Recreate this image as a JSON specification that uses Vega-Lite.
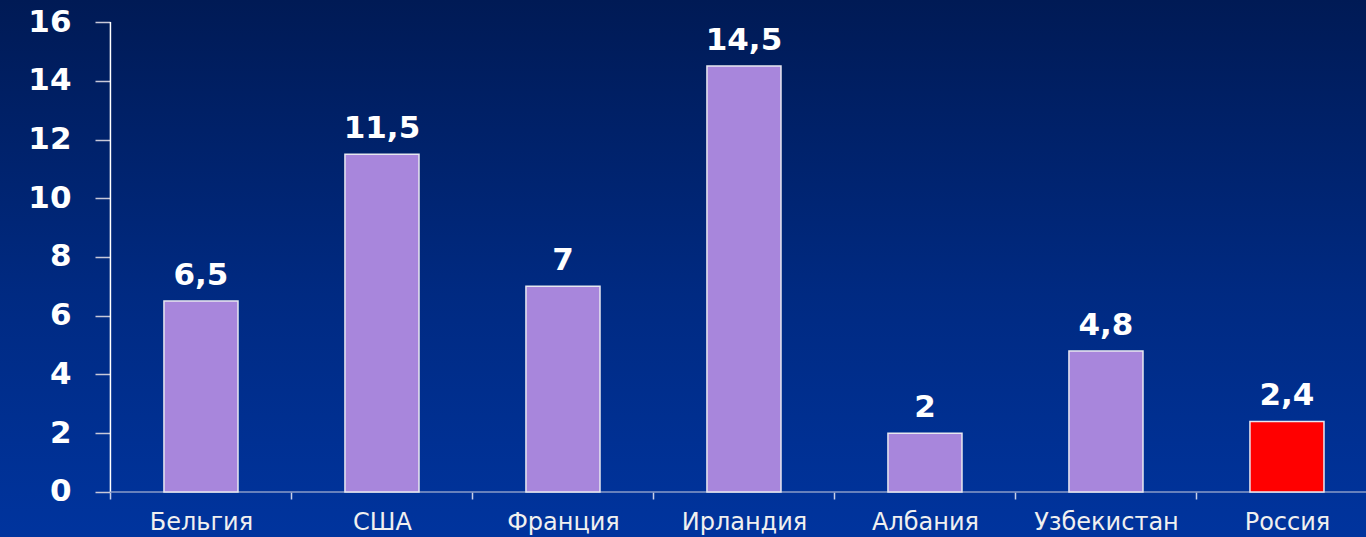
{
  "$schema": "https://vega.github.io/schema/vega-lite/v6.json",
  "autosize": {"type": "none"},
  "padding": 0,
  "width": 1366,
  "height": 537,
  "background": "#00277a",
  "config": {
    "view": {
      "stroke": null,
      "fill": {"gradient": "linear", "x1": 0, "y1": 0, "x2": 0, "y2": 1,
        "stops": [{"offset": 0, "color": "#001a55"}, {"offset": 0.55, "color": "#002a82"}, {"offset": 1, "color": "#00349e"}]}
    }
  },
  "data": {
    "values": [
      {"country": "Бельгия", "value": 6.5, "label": "6,5"},
      {"country": "США", "value": 11.5, "label": "11,5"},
      {"country": "Франция", "value": 7, "label": "7"},
      {"country": "Ирландия", "value": 14.5, "label": "14,5"},
      {"country": "Албания", "value": 2, "label": "2"},
      {"country": "Узбекистан", "value": 4.8, "label": "4,8"},
      {"country": "Россия", "value": 2.4, "label": "2,4"}
    ]
  },
  "encoding": {
    "x": {
      "field": "country", "type": "nominal", "sort": null,
      "scale": {
        "domain": ["Бельгия", "США", "Франция", "Ирландия", "Албания", "Узбекистан", "Россия"],
        "paddingInner": 0.591, "paddingOuter": 0.569, "align": 0.796
      },
      "axis": {
        "title": null, "labelAngle": 0, "offset": -45, "domain": false,
        "tickOffset": -90.5, "labelOffset": 90.5,
        "tickColor": "#c8d0e8", "tickSize": 7, "tickWidth": 1.5,
        "labelColor": "#f0f0f0", "labelFont": "DejaVu Sans", "labelFontSize": 24,
        "labelPadding": 11
      }
    },
    "y": {
      "field": "value", "type": "quantitative",
      "scale": {"domain": [-1.532, 16.749], "nice": false, "zero": false},
      "axis": {
        "title": null, "values": [0, 2, 4, 6, 8, 10, 12, 14, 16], "grid": false,
        "offset": -110, "domain": false,
        "tickColor": "#c8c8d8", "tickSize": 15, "tickWidth": 1.5,
        "labelColor": "#ffffff", "labelFont": "DejaVu Sans", "labelFontWeight": "bold",
        "labelFontSize": 31, "labelPadding": 24
      }
    }
  },
  "layer": [
    {
      "data": {"values": [{"country": "Бельгия", "lo": 0, "hi": 16}]},
      "mark": {"type": "rule", "color": "#ffffff", "strokeWidth": 1.5},
      "encoding": {
        "x": {"field": "country", "type": "nominal", "bandPosition": -0.723},
        "y": {"field": "lo", "type": "quantitative"},
        "y2": {"field": "hi"}
      }
    },
    {
      "data": {"values": [{"from": "Бельгия", "to": "Россия", "base": 0}]},
      "mark": {"type": "rule", "color": "#8a9cc8", "strokeWidth": 1.5},
      "encoding": {
        "x": {"field": "from", "type": "nominal", "bandPosition": -0.723},
        "x2": {"field": "to", "bandPosition": 1.6},
        "y": {"field": "base", "type": "quantitative"}
      }
    },
    {
      "mark": {"type": "bar", "stroke": "#e8e8f0", "strokeWidth": 1.5},
      "encoding": {
        "color": {
          "condition": {"test": "datum.country === 'Россия'", "value": "#ff0000"},
          "value": "#a886dc"
        }
      }
    },
    {
      "mark": {"type": "text", "baseline": "alphabetic", "dy": -16, "font": "DejaVu Sans", "fontWeight": "bold", "fontSize": 31, "color": "#ffffff"},
      "encoding": {"text": {"field": "label"}}
    }
  ]
}
